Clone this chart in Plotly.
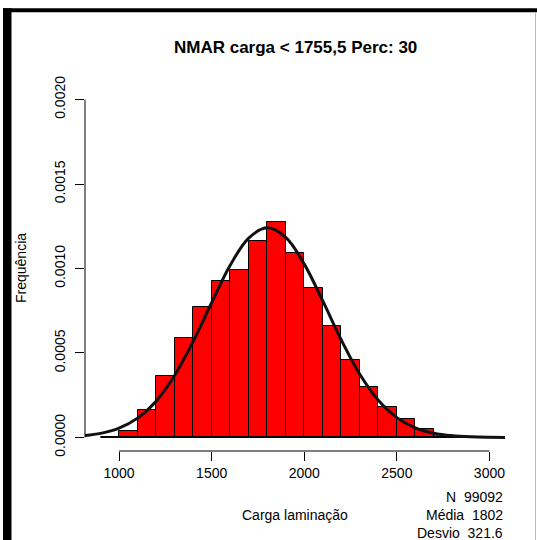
import plotly.graph_objects as go

# ---------------- data ----------------
bin_starts = [900, 1000, 1100, 1200, 1300, 1400, 1500, 1600, 1700, 1800, 1900,
              2000, 2100, 2200, 2300, 2400, 2500, 2600, 2700, 2800, 2900]
bin_width = 100
densities = [0.0, 0.000036, 0.00016, 0.000365, 0.000588, 0.000771, 0.000929,
             0.000992, 0.001162, 0.001278, 0.00109, 0.000884, 0.000657,
             0.000456, 0.000298, 0.000182, 0.000107, 0.000049, 0.000016,
             0.0, 0.0]

curve_x = [800, 900, 1000, 1100, 1200, 1300, 1400, 1500, 1600, 1700, 1800,
           1900, 2000, 2100, 2200, 2300, 2400, 2500, 2600, 2700, 2800, 2900,
           3000, 3100]
curve_y = [0.0000097, 0.0000243, 0.0000553, 0.0001146, 0.0002151, 0.000367,
           0.000568, 0.000798, 0.001019, 0.00118, 0.0012405, 0.001184,
           0.001026, 0.000808, 0.000577, 0.000374, 0.00022, 0.0001177,
           0.0000572, 0.0000252, 0.0000101, 0.0000036, 0.0000012, 0.0000004]

x_ticks = [1000, 1500, 2000, 2500, 3000]
y_ticks = [0.0, 0.0005, 0.0010, 0.0015, 0.0020]

title_text = "NMAR carga < 1755,5 Perc: 30"
x_title = "Carga laminação"
y_title = "Frequência"
stats_lines = ["N\u00a0\u00a099092", "Média\u00a0\u00a01802", "Desvio\u00a0\u00a0321.6"]

# ---------------- layout geometry ----------------
W, H = 537, 540
ML, MR, MT, MB = 85, 32, 86, 89
PW, PH = W - ML - MR, H - MT - MB


def px_x(p):
    return (p - ML) / PW


def px_y(p):
    return (H - MB - p) / PH


FONT = "Liberation Sans, Arial, sans-serif"

lo, hi = bin_starts[0], bin_starts[-1] + bin_width
ext = 0.04 * (hi - lo)
x_range = [lo - ext, hi + ext]
y_span = y_ticks[-1] - y_ticks[0]
y_range = [y_ticks[0] - 0.04 * y_span, y_ticks[-1] + 0.04 * y_span]

centers = [s + bin_width / 2 for s in bin_starts]

fig = go.Figure()
fig.add_trace(go.Bar(
    x=centers, y=densities, width=[bin_width] * len(centers),
    marker=dict(color="#FF0000", line=dict(color="#000000", width=1)),
    hoverinfo="x+y", showlegend=False,
))
fig.add_trace(go.Scatter(
    x=[lo, hi], y=[0, 0], mode="lines",
    line=dict(color="#000000", width=1), showlegend=False, hoverinfo="skip",
))
fig.add_trace(go.Scatter(
    x=curve_x, y=curve_y, mode="lines",
    line=dict(color="#111111", width=3, shape="spline", smoothing=1.0),
    showlegend=False,
))

shapes = [
    # axis lines spanning first to last tick (R style)
    dict(type="line", xref="x", yref="paper", x0=x_ticks[0], x1=x_ticks[-1],
         y0=0, y1=0, line=dict(color="#000", width=1)),
    dict(type="line", xref="paper", yref="y", x0=0, x1=0,
         y0=y_ticks[0], y1=y_ticks[-1], line=dict(color="#000", width=1)),
    # black frame of the screenshot
    dict(type="rect", xref="paper", yref="paper", x0=px_x(3), x1=px_x(537),
         y0=px_y(12.3), y1=px_y(8.3), fillcolor="#000", line=dict(width=0), layer="above"),
    dict(type="rect", xref="paper", yref="paper", x0=px_x(3), x1=px_x(11.5),
         y0=px_y(540), y1=px_y(8.3), fillcolor="#000", line=dict(width=0), layer="above"),
    dict(type="line", xref="paper", yref="paper", x0=px_x(535.5), x1=px_x(535.5),
         y0=px_y(540), y1=px_y(12), line=dict(color="#bbbbbb", width=1), layer="above"),
]

annotations = [
    dict(text="<b>" + title_text + "</b>", xref="paper", yref="paper",
         x=0.5, y=px_y(47.5), xanchor="center", yanchor="middle",
         showarrow=False, font=dict(family=FONT, size=17, color="#000")),
    dict(text=x_title, xref="paper", yref="paper", x=0.5, y=px_y(515),
         xanchor="center", yanchor="middle", showarrow=False,
         font=dict(family=FONT, size=14, color="#000")),
    dict(text=y_title, xref="paper", yref="paper", x=px_x(20.5), y=0.5,
         xanchor="center", yanchor="middle", textangle=-90, showarrow=False,
         font=dict(family=FONT, size=14, color="#000")),
]
for i, s in enumerate(stats_lines):
    annotations.append(dict(
        text=s, xref="paper", yref="paper", x=1.0, y=px_y(496.5 + 18.3 * i),
        xanchor="right", yanchor="middle", showarrow=False,
        font=dict(family=FONT, size=14, color="#000")))

fig.update_layout(
    width=W, height=H,
    margin=dict(l=ML, r=MR, t=MT, b=MB, pad=0),
    paper_bgcolor="#ffffff", plot_bgcolor="#ffffff",
    bargap=0,
    shapes=shapes, annotations=annotations,
    font=dict(family=FONT, size=14, color="#000"),
    xaxis=dict(range=x_range, tickmode="array", tickvals=x_ticks,
               ticktext=[str(t) for t in x_ticks],
               ticks="outside", ticklen=9, tickwidth=1, tickcolor="#000",
               showline=False, showgrid=False, zeroline=False,
               tickfont=dict(family=FONT, size=14, color="#000")),
    yaxis=dict(range=y_range, tickmode="array", tickvals=y_ticks,
               ticktext=["%.4f" % t for t in y_ticks],
               ticks="outside", ticklen=9, tickwidth=1, tickcolor="#000",
               tickangle=-90, ticklabelstandoff=4,
               showline=False, showgrid=False, zeroline=False,
               tickfont=dict(family=FONT, size=14, color="#000")),
)

fig.write_html("out.html")
